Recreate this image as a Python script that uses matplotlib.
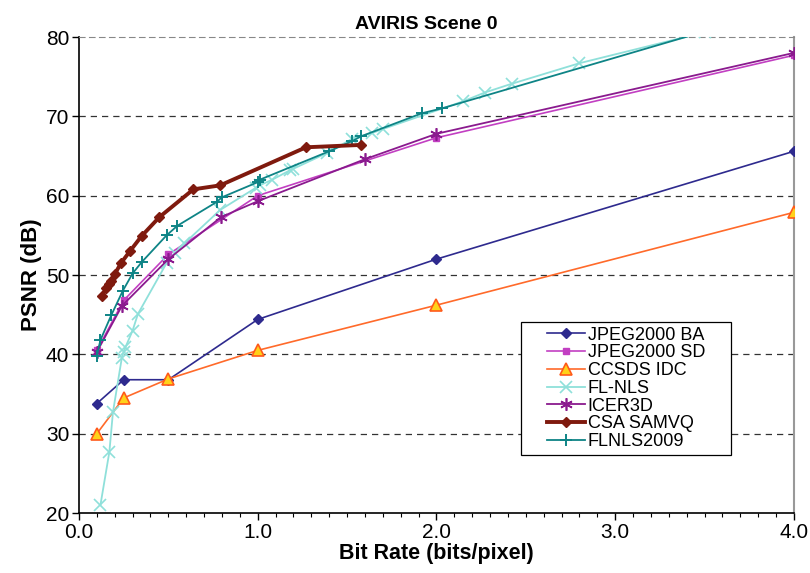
import matplotlib
matplotlib.use("Agg")
import matplotlib.pyplot as plt
from matplotlib.ticker import MultipleLocator
from matplotlib.patches import Rectangle

plt.rcParams['font.family'] = ['Liberation Sans', 'DejaVu Sans']

title = "AVIRIS Scene 0"
xlabel = "Bit Rate (bits/pixel)"
ylabel = "PSNR (dB)"

ba_x = [0.1, 0.25, 0.5, 1.0, 2.0, 4.0]
ba_y = [33.8, 36.8, 36.8, 44.4, 52.0, 65.6]

sd_x = [0.1, 0.25, 0.5, 1.0, 2.0, 4.0]
sd_y = [40.5, 46.8, 52.6, 60.0, 67.3, 77.7]

idc_x = [0.1, 0.25, 0.5, 1.0, 2.0, 4.0]
idc_y = [30.0, 34.5, 36.9, 40.5, 46.2, 57.9]

flnls_x = [0.12, 0.17, 0.19, 0.24, 0.25, 0.26, 0.30, 0.33, 0.49, 0.54, 0.59,
           0.79, 0.99, 1.01, 1.08, 1.18, 1.20, 1.39, 1.53, 1.64, 1.70,
           2.15, 2.27, 2.42, 2.80, 3.50]
flnls_y = [21.0, 27.7, 32.7, 39.6, 40.3, 40.9, 43.0, 45.1, 51.5, 52.8, 54.0,
           58.2, 61.0, 61.3, 62.0, 63.2, 63.4, 65.4, 67.2, 67.9, 68.4,
           71.9, 73.0, 74.1, 76.7, 80.6]

icer_x = [0.1, 0.24, 0.5, 0.795, 1.0, 1.6, 2.0, 4.0]
icer_y = [40.3, 46.1, 52.0, 57.3, 59.3, 64.6, 67.8, 78.0]

samvq_x = [0.13, 0.15, 0.17, 0.18, 0.20, 0.235, 0.285, 0.35, 0.45, 0.64,
           0.79, 1.27, 1.58]
samvq_y = [47.3, 48.4, 48.9, 49.3, 50.1, 51.5, 53.0, 54.9, 57.3, 60.8,
           61.3, 66.1, 66.4]

fl09_x = [0.1, 0.12, 0.18, 0.245, 0.30, 0.35, 0.49, 0.55, 0.77, 0.80,
          1.0, 1.01, 1.40, 1.53, 1.58, 1.92, 2.03, 3.50]
fl09_y = [39.8, 41.8, 44.9, 48.0, 50.2, 51.6, 55.0, 56.2, 59.2, 59.8,
          61.7, 62.0, 65.6, 66.9, 67.5, 70.4, 71.0, 80.7]

labels = ["JPEG2000 BA", "JPEG2000 SD", "CCSDS IDC", "FL-NLS", "ICER3D",
          "CSA SAMVQ", "FLNLS2009"]

fig = plt.figure(figsize=(8.1, 5.73), dpi=100)
ax = fig.add_axes([0.0975, 0.1047, 0.8827, 0.8307])

ax.plot(ba_x, ba_y, color='#2e2a8e', lw=1.2, marker='D', ms=5.5,
        mfc='#2e2a8e', mec='#2e2a8e', label=labels[0], zorder=3)
ax.plot(sd_x, sd_y, color='#c23fc2', lw=1.2, marker='s', ms=4.5,
        mfc='#c23fc2', mec='#c23fc2', label=labels[1], zorder=3)
ax.plot(idc_x, idc_y, color='#ff6a2a', lw=1.2, marker='^', ms=8,
        mfc='#ffd21a', mec='#ff5a1a', mew=1.2, label=labels[2], zorder=3)
ax.plot(flnls_x, flnls_y, color='#8fe0da', lw=1.3, marker='x', ms=8,
        mec='#8fe0da', mew=1.2, label=labels[3], zorder=3)
ax.plot(icer_x, icer_y, color='#8a1a8e', lw=1.3, marker=(6, 2, 0), ms=9,
        mec='#8a1a8e', mew=1.2, label=labels[4], zorder=4)
ax.plot(samvq_x, samvq_y, color='#7f1a0e', lw=2.8, marker='D', ms=5.5,
        mfc='#7f1a0e', mec='#7f1a0e', label=labels[5], zorder=5)
ax.plot(fl09_x, fl09_y, color='#0e8486', lw=1.3, marker='+', ms=9,
        mec='#0e8486', mew=1.4, label=labels[6], zorder=4)

ax.set_xlim(0, 4)
ax.set_ylim(20, 80)
ax.xaxis.set_major_locator(MultipleLocator(1.0))
ax.xaxis.set_minor_locator(MultipleLocator(0.1))
ax.yaxis.set_major_locator(MultipleLocator(10))
ax.set_xticklabels([f"{v:.1f}" for v in ax.get_xticks()])
ax.tick_params(axis='both', which='major', direction='out', length=5,
               width=1, labelsize=15, pad=2)
ax.tick_params(axis='x', which='minor', direction='out', length=3, width=0.8)
ax.tick_params(axis='y', which='minor', left=False)

for y in [30, 40, 50, 60, 70]:
    ax.axhline(y, color='#333333', lw=0.9, ls=(0, (5, 4)), zorder=1)

ax.spines['left'].set_color('black')
ax.spines['bottom'].set_color('black')
ax.spines['left'].set_linewidth(1.2)
ax.spines['bottom'].set_linewidth(1.2)
ax.spines['top'].set_color('#888888')
ax.spines['top'].set_linestyle((0, (5, 4)))
ax.spines['right'].set_color('#999999')
ax.spines['right'].set_linewidth(1.5)

ax.set_title(title, fontsize=14, fontweight='bold', pad=6, x=0.486)
ax.set_xlabel(xlabel, fontsize=15.5, fontweight='bold', labelpad=1)
ax.set_ylabel(ylabel, fontsize=16, fontweight='bold', labelpad=3)

leg = ax.legend(loc='upper left', bbox_to_anchor=(0.6495, 0.399), fontsize=13,
                frameon=False, handlelength=2.1, labelspacing=0.04,
                borderpad=0.2, handletextpad=0.15, borderaxespad=0)
leg.set_zorder(10)

fig.canvas.draw()
bb = leg.get_window_extent().transformed(fig.transFigure.inverted())
padx = 22 / 810
pady = 1 / 573
frame = Rectangle((bb.x0 - padx, bb.y0 - pady), bb.width + 2 * padx,
                  bb.height + 2 * pady, transform=fig.transFigure,
                  facecolor='white', edgecolor='black', lw=0.9, zorder=9)
ax.add_artist(frame)
frame.set_clip_on(False)

fig.savefig("out.png", dpi=100)
